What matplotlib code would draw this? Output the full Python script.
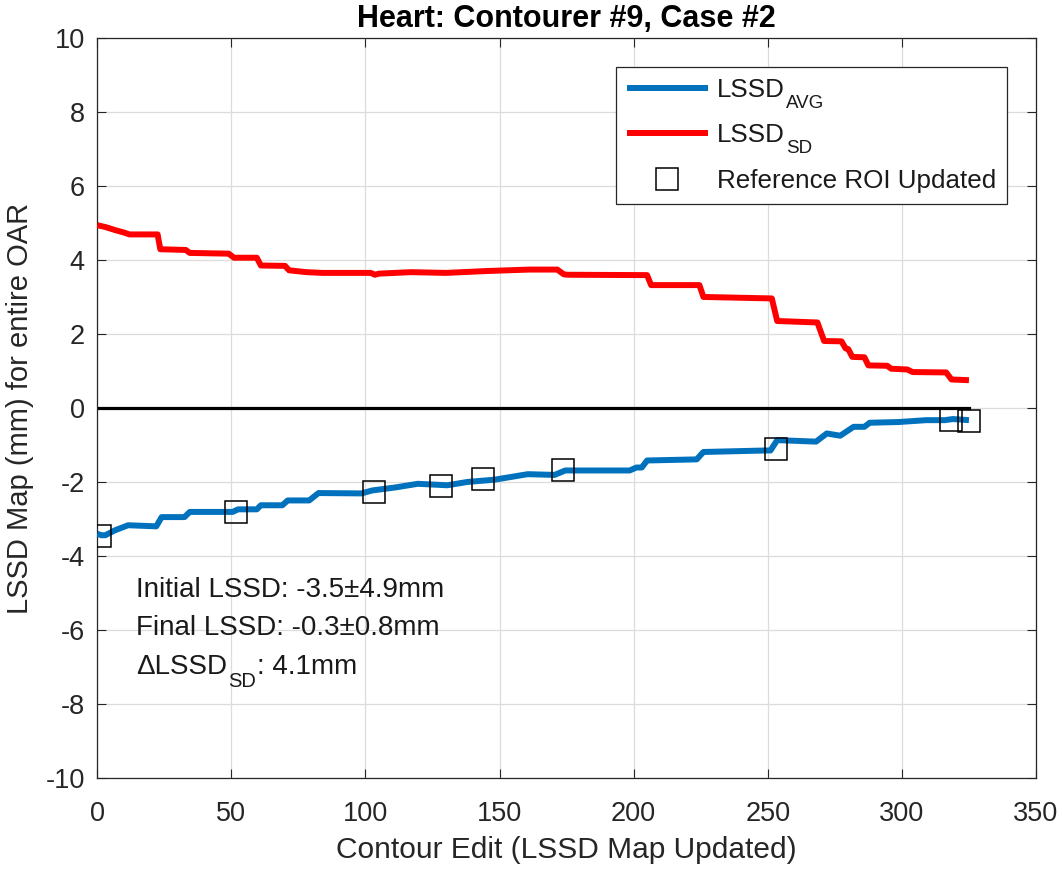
import matplotlib
matplotlib.use("Agg")
import matplotlib.pyplot as plt
import numpy as np

plt.rcParams['font.family'] = ['Liberation Sans', 'DejaVu Sans']
plt.rcParams['axes.unicode_minus'] = False

# ---- data ----
sd_x = [0, 3, 7, 10, 12, 22.5, 23.5, 33, 34.5, 49, 51, 59.5, 61, 70, 71.5, 78, 84, 102,
        103.5, 105, 117, 130, 145, 161, 171.5, 174, 175.5, 205, 206.5, 224.5, 226, 251.5,
        253.5, 268.5, 271, 277.5, 279, 280, 281.5, 286, 287.5, 294.5, 296, 302, 304, 316.5,
        318.5, 325]
sd_y = [4.95, 4.9, 4.81, 4.75, 4.7, 4.7, 4.3, 4.28, 4.2, 4.18, 4.07, 4.07, 3.86, 3.85, 3.73,
        3.68, 3.66, 3.66, 3.61, 3.64, 3.68, 3.66, 3.71, 3.75, 3.75, 3.62, 3.61, 3.6, 3.33,
        3.33, 3.01, 2.97, 2.36, 2.32, 1.82, 1.81, 1.62, 1.6, 1.39, 1.38, 1.16, 1.15, 1.07,
        1.05, 0.98, 0.97, 0.78, 0.76]

avg_x = [0, 1.5, 3, 6.5, 11.5, 22, 24, 32.5, 34.5, 50.5, 52.5, 59.5, 61, 69, 71, 79, 82.5,
         98.5, 102.5, 111, 119.5, 130.5, 138, 148, 160.5, 170.5, 174.5, 198.5, 201, 203, 205,
         223.5, 226, 249, 251, 253.5, 268, 272, 277, 282, 286, 288, 299, 309, 316, 319, 325]
avg_y = [-3.39, -3.43, -3.43, -3.3, -3.16, -3.19, -2.94, -2.94, -2.8, -2.8, -2.73, -2.73,
         -2.62, -2.62, -2.49, -2.49, -2.29, -2.3, -2.22, -2.14, -2.04, -2.08, -1.99, -1.93,
         -1.78, -1.8, -1.68, -1.68, -1.6, -1.6, -1.41, -1.38, -1.18, -1.14, -1.14, -0.86,
         -0.9, -0.68, -0.74, -0.5, -0.5, -0.39, -0.37, -0.32, -0.32, -0.29, -0.32]

ref_x = [1, 51.6, 103, 128, 144, 173.8, 253, 318.4, 325.2]
ref_y = [-3.46, -2.8, -2.26, -2.1, -1.9, -1.66, -1.09, -0.32, -0.33]

zero_x = [0, 325]
zero_y = [0, 0]

title = 'Heart: Contourer #9, Case #2'
xlabel = 'Contour Edit (LSSD Map Updated)'
ylabel = 'LSSD Map (mm) for entire OAR'
legend_main = ['LSSD', 'LSSD', 'Reference ROI Updated']
legend_sub = ['AVG', 'SD', '']
note1 = 'Initial LSSD: -3.5\u00b14.9mm'
note2 = 'Final LSSD: -0.3\u00b10.8mm'
note3_main, note3_sub, note3_tail = '\u0394LSSD', 'SD', ': 4.1mm'

# ---- figure ----
fig = plt.figure(figsize=(10.63, 8.75), dpi=100)
ax = fig.add_axes([0.0915, 0.1105, 0.8831, 0.8457])

blue = '#0072BD'
red = '#FF0000'
txtc = '#1a1a1a'

ax.plot(zero_x, zero_y, color='black', lw=2.3, zorder=2)
l1, = ax.plot(avg_x, avg_y, color=blue, lw=4.3, zorder=3, solid_capstyle='butt')
l2, = ax.plot(sd_x, sd_y, color=red, lw=4.3, zorder=3, solid_capstyle='butt')
l3, = ax.plot(ref_x, ref_y, linestyle='none', marker='s', markersize=16.5,
              markerfacecolor='none', markeredgecolor='black', markeredgewidth=1.1,
              zorder=4)

ax.set_xlim(0, 350)
ax.set_ylim(-10, 10)
ax.set_xticks(np.arange(0, 351, 50))
ax.set_yticks(np.arange(-10, 11, 2))
ax.grid(True, color='#dcdcdc', lw=0.9)
ax.set_axisbelow(True)
ax.tick_params(direction='in', length=6.5, width=0.8, top=True, right=True,
               labelsize=19.5, colors='#262626')
ax.tick_params(axis='x', pad=16)
ax.tick_params(axis='y', pad=9)
for s in ax.spines.values():
    s.set_color('#262626')
    s.set_linewidth(0.9)

ax.set_title(title, fontsize=22, fontweight='bold', pad=8)
ax.set_xlabel(xlabel, fontsize=21.5, color='#262626', labelpad=7)
ax.set_ylabel(ylabel, fontsize=21, color='#262626', labelpad=8)

leg = ax.legend(handles=[l1, l2, l3], labels=legend_main, loc='upper right',
                bbox_to_anchor=(0.969, 0.961),
                borderaxespad=0, fontsize=18.7, handlelength=3.1, handletextpad=0.35,
                labelspacing=0.82, frameon=True, fancybox=False, borderpad=0.42)
leg.get_frame().set_edgecolor('#262626')
leg.get_frame().set_linewidth(0.9)
leg.get_frame().set_alpha(1)
for t in leg.get_texts():
    t.set_color(txtc)

fs = 20
t1 = ax.text(14.5, -4.9, note1, fontsize=fs, ha='left', va='center', color=txtc)
t2 = ax.text(14.5, -5.95, note2, fontsize=fs, ha='left', va='center', color=txtc)
t3 = ax.text(14.5, -7.0, note3_main, fontsize=fs, ha='left', va='center', color=txtc)

# place subscripts after layout is known
fig.canvas.draw()
W, H = fig.bbox.width, fig.bbox.height

def put_sub(parent, sub, size, dy_px):
    bb = parent.get_window_extent()
    st = fig.text((bb.x1 + 1) / W, (bb.y0 + dy_px) / H, sub, fontsize=size,
                  ha='left', va='center', color=txtc)
    return st

for t, sub in zip(leg.get_texts(), legend_sub):
    if sub:
        put_sub(t, sub, 13.5, -1)

s3 = put_sub(t3, note3_sub, 14.5, -1)
fig.canvas.draw()
bb3 = t3.get_window_extent()
bbs = s3.get_window_extent()
fig.text((bbs.x1 + 1) / W, (bb3.y0 + bb3.y1) / 2 / H, note3_tail, fontsize=fs,
         ha='left', va='center', color=txtc)

fig.savefig('out.png', dpi=100)
